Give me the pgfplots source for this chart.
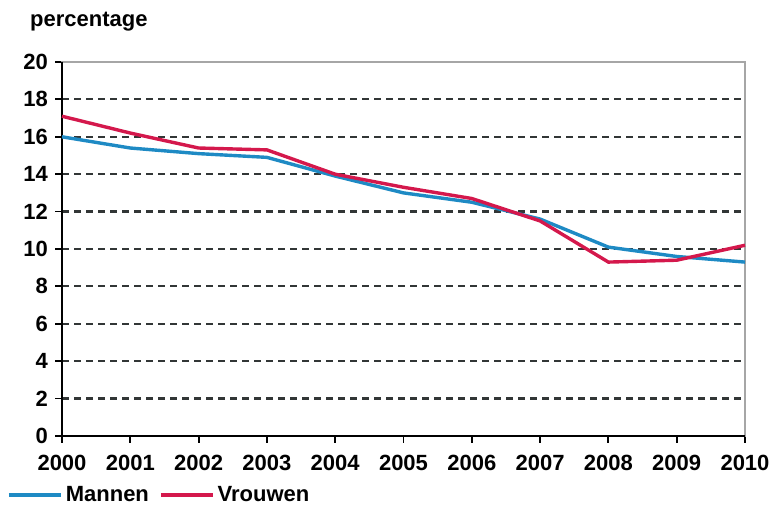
\documentclass[border=0pt]{standalone}
\usepackage{fontspec}
\setmainfont{Liberation Sans}
\usepackage{pgfplots}
\pgfplotsset{compat=1.18}
\definecolor{mblue}{RGB}{30,138,196}
\definecolor{vred}{RGB}{212,24,76}
\definecolor{gridc}{RGB}{50,54,54}
\newcommand\lblfont{\fontsize{22}{26}\selectfont\bfseries}
\begin{document}
\begin{tikzpicture}
\useasboundingbox (0pt,0pt) rectangle (772pt,506pt);
\node[anchor=base west, inner sep=0pt, font=\lblfont] at (30pt,479pt) {percentage};
\begin{axis}[
  at={(62pt,70pt)}, anchor=south west,
  scale only axis, width=683pt, height=374pt,
  xmin=2000, xmax=2010, ymin=0, ymax=20,
  xtick={2000,2001,...,2010},
  xticklabels={2000,2001,2002,2003,2004,2005,2006,2007,2008,2009,2010},
  ytick={0,2,...,20},
  xtick pos=left, ytick pos=left,
  tick align=outside,
  major tick length=7pt,
  tick style={black, line width=1.8pt},
  ymajorgrids,
  major grid style={gridc, line width=2.2pt, dash pattern=on 7pt off 5pt},
  axis line style={draw=gray!70, line width=1.2pt},
  /pgf/number format/assume math mode=true,
  ticklabel style={font=\lblfont},
  xticklabel style={inner sep=0pt, anchor=north, yshift=-12pt},
  yticklabel style={inner sep=0pt, anchor=east, xshift=-7pt},
  legend columns=2,
  legend style={at={(-0.0805,-0.158)}, anchor=west, draw=none, fill=none,
    inner sep=0pt, outer sep=0pt, font=\lblfont, nodes={inner sep=0pt},
    /tikz/every odd column/.append style={column sep=3pt},
    /tikz/every even column/.append style={column sep=10pt}},
  legend image code/.code={\draw[#1, line width=3.8pt] (0pt,0pt) -- (52pt,0pt);},
  clip=false,
]
\draw[black, line width=2.5pt] (rel axis cs:0,1) -- (rel axis cs:0,0) -- (rel axis cs:1,0);
\addplot[mblue, line width=3.4pt] coordinates {
(2000,16.0) (2001,15.4) (2002,15.1) (2003,14.9) (2004,13.9) (2005,13.0)
(2006,12.5) (2007,11.6) (2008,10.1) (2009,9.6) (2010,9.3)};
\addlegendentry{Mannen}
\addplot[vred, line width=3.4pt] coordinates {
(2000,17.1) (2001,16.2) (2002,15.4) (2003,15.3) (2004,14.0) (2005,13.3)
(2006,12.7) (2007,11.5) (2008,9.3) (2009,9.4) (2010,10.2)};
\addlegendentry{Vrouwen}
\end{axis}
\end{tikzpicture}
\end{document}
